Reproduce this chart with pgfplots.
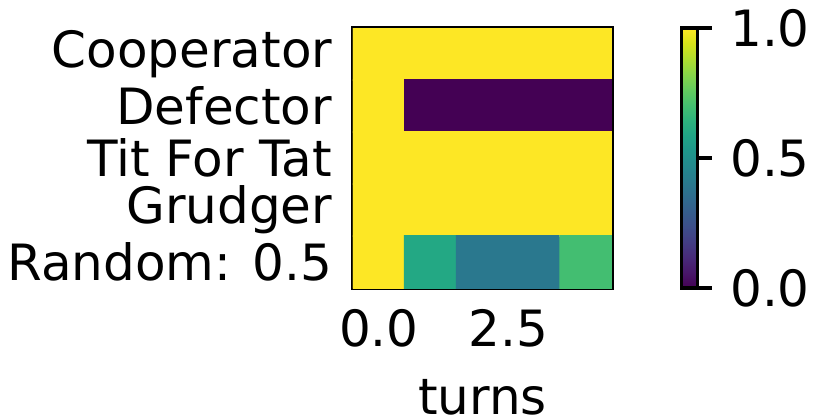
\documentclass[border=0pt]{standalone}
\usepackage{fontspec}
\setmainfont{DejaVu Sans}
\usepackage{pgfplots}
\pgfplotsset{compat=1.18}
\begin{document}
\fontsize{12}{14.4}\selectfont
\begin{tikzpicture}
\begin{axis}[
  name=main,
  width=62.16pt, height=62.4pt, scale only axis,
  xmin=-0.5, xmax=4.5, ymin=-0.5, ymax=4.5,
  y dir=reverse,
  axis line style={line width=0.8pt},
  major tick length=0pt,
  tick style={draw=none},
  xtick pos=bottom, ytick pos=left,
  xtick={0,2.5}, xticklabels={0.0,2.5},
  ytick={0,1,2,3,4},
  yticklabels={Cooperator,Defector,Tit For Tat,Grudger,Random: 0.5},
  xticklabel style={yshift=-1.0pt},
  yticklabel style={xshift=-0.8pt},
  /pgf/number format/assume math mode=true,
  xlabel={turns},
  xlabel style={inner sep=0pt, yshift=-3.5pt},
  colormap name=viridis,
  point meta min=0, point meta max=1,
  colorbar,
  colorbar style={
    at={(parent axis.north east)}, anchor=north west, xshift=8.1pt,
    width=3.84pt, height=62.4pt, scale only axis,
    ytick={0,0.5,1}, yticklabels={0.0,0.5,1.0},
    axis line style={line width=0.8pt},
    every tick/.style={line width=0.8pt, black},
    major tick length=3.5pt,
    tick align=outside, ytick pos=right,
    yticklabel style={xshift=0.2pt},
    /pgf/number format/assume math mode=true,
  },
]
\addplot[matrix plot*, mesh/cols=5, point meta=explicit] table[meta=c] {
x y c
0 0 1
1 0 1
2 0 1
3 0 1
4 0 1
0 1 1
1 1 0
2 1 0
3 1 0
4 1 0
0 2 1
1 2 1
2 2 1
3 2 1
4 2 1
0 3 1
1 3 1
2 3 1
3 3 1
4 3 1
0 4 1
1 4 0.6
2 4 0.4
3 4 0.4
4 4 0.7
};
\end{axis}
\pgfresetboundingbox
\path ([shift={(-84.72pt,-31.2pt)}]main.south west) rectangle ([shift={(110.64pt,69.12pt)}]main.south west);
\end{tikzpicture}
\end{document}
